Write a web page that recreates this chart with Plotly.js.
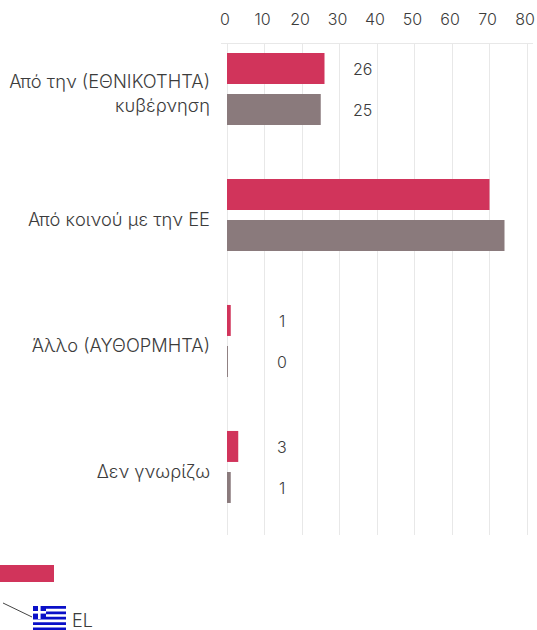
<!DOCTYPE html>
<html><head><meta charset="utf-8">
<script src="https://cdn.plot.ly/plotly-3.0.0.min.js"></script>
<style>html,body{margin:0;padding:0;background:#fff}</style></head>
<body><div id="c" style="width:537px;height:630px"></div>
<script>
const categories = ['Από την (ΕΘΝΙΚΟΤΗΤΑ)<br>κυβέρνηση','Από κοινού με την ΕΕ','Άλλο (ΑΥΘΟΡΜΗΤΑ)','Δεν γνωρίζω'];
const seriesA = [26,70,1,3];
const seriesB = [25,74,0.25,1];
const labelsA = ['26','','1','3'];
const labelsB = ['25','','0','1'];
const tickVals = [0,10,20,30,40,50,60,70,80];
const legendLabel = 'EL';
const RED='#D1345B', GREY='#8A7A7C', TXT='#3c3c3c', FONT='"Inter", sans-serif';
const W=537,H=630;
const L=221,T=44,PW=312,PH=491;
const px=x=>(x-L)/PW, py=y=>1-(y-T)/PH;
const rect=(x0,y0,x1,y1,c)=>({type:'rect',xref:'paper',yref:'paper',x0:px(x0),x1:px(x1),y0:py(y0),y1:py(y1),fillcolor:c,line:{width:0},layer:'above'});
const shapes=[rect(0,565,54,582,RED),
 {type:'line',xref:'paper',yref:'paper',x0:px(3),y0:py(603),x1:px(32),y1:py(617),line:{color:'#444',width:1}}];
const BLUE='#0A10C8';
for(let i=0;i<5;i++) shapes.push(rect(33,606+i*5.4,66,606+i*5.4+2.8,BLUE));
shapes.push(rect(33,606,46,619,BLUE));
shapes.push(rect(33,611,46,613.6,'#fff'));
shapes.push(rect(38,606,40.6,619,'#fff'));
const anns=[];
const offs=[36,36,14.7,14.7];
categories.forEach((c,i)=>{
 [[labelsA,-0.16],[labelsB,0.168]].forEach(([l,d])=>{
  if(l[i]!=='') anns.push({x:offs[i],y:i+d,xref:'x',yref:'y',text:l[i],showarrow:false,font:{size:16,weight:300,color:TXT,family:FONT}});
 });
});
anns.push({xref:'paper',yref:'paper',x:px(72),y:py(620),xanchor:'left',yanchor:'middle',text:legendLabel,showarrow:false,xshift:-2,font:{size:18,weight:300,color:TXT,family:FONT}});
const tr=(v,c)=>({type:'bar',orientation:'h',x:v,y:categories,marker:{color:c,line:{width:0}},hoverinfo:'skip'});
Plotly.newPlot('c',[tr(seriesA,RED),tr(seriesB,GREY)],{
 width:W,height:H,margin:{l:L,r:W-L-PW,t:T,b:H-T-PH},
 paper_bgcolor:'#fff',plot_bgcolor:'#fff',showlegend:false,
 barmode:'group',bargap:0.349,bargroupgap:0.244,
 font:{family:FONT,color:TXT},
 xaxis:{side:'top',range:[-1.6,81.6],tickvals:tickVals,ticktext:tickVals.map(String),
  gridcolor:'#e8e8e8',gridwidth:1,zeroline:false,showline:true,linecolor:'#e8e8e8',linewidth:1,
  ticks:'',tickfont:{size:16,weight:300,color:TXT,family:FONT},ticklabelshift:-2,ticklabelstandoff:12},
 yaxis:{type:'category',categoryorder:'array',categoryarray:categories,range:[3.54,-0.357],
  showgrid:false,zeroline:false,showline:false,ticks:'',tickfont:{size:18.3,weight:300,color:TXT,family:FONT},ticklabelstandoff:10,ticklabelshift:-5},
 shapes,annotations:anns
},{displayModeBar:false,staticPlot:true});
</script></body></html>
